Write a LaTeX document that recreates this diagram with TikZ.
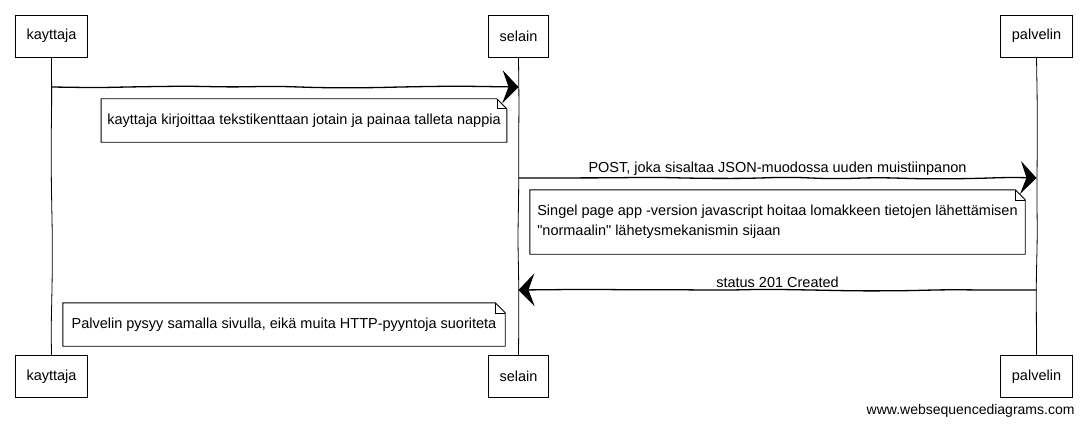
\documentclass[tikz,border=0pt]{standalone}
\usepackage{fontspec}
\setmainfont{Liberation Sans}
\usetikzlibrary{arrows.meta,decorations.pathmorphing}

\begin{document}
\begin{tikzpicture}[x=1pt,y=-1pt,
  every node/.style={font=\fontsize{14.5}{20}\selectfont},
  sketch/.style={decorate,decoration={random steps,segment length=45pt,amplitude=0.9pt},rounded corners=15pt},
  actor/.style={draw,line width=0.9pt,minimum height=42pt,inner xsep=11pt},
  life/.style={line width=0.8pt,sketch},
  msg/.style={line width=1.3pt,sketch,-{Stealth[length=16pt,width=33pt,inset=6pt]}},
  note/.style={inner xsep=6pt,minimum height=43pt,align=left}]
\useasboundingbox (0,0) rectangle (1086,425);
\pgfmathsetseed{7}
% participants, top and bottom
\node[actor] (kayttaja) at (51.5,36) {kayttaja};
\node[actor] (selain) at (518.5,36) {selain};
\node[actor] (palvelin) at (1036.5,36) {palvelin};
\node[actor] (kayttaja2) at (51.5,376.5) {kayttaja};
\node[actor] (selain2) at (518.5,376.5) {selain};
\node[actor] (palvelin2) at (1036.5,376.5) {palvelin};
\draw[life] (kayttaja) -- (kayttaja2);
\draw[life] (selain) -- (selain2);
\draw[life] (palvelin) -- (palvelin2);
% message rows
\coordinate (m1) at (0,87);
\coordinate (m2) at (0,178);
\coordinate (m3) at (0,290);
\draw[msg] (kayttaja |- m1) -- (selain |- m1);
\draw[msg] (selain |- m2) -- node[above,inner sep=2pt] {POST, joka sisaltaa JSON-muodossa uuden muistiinpanon} (palvelin |- m2);
\draw[msg] (palvelin |- m3) -- node[above,inner sep=2pt] {status 201 Created} (selain |- m3);
% notes
\node[note,minimum width=402pt] (n1) at (304,120.5) {kayttaja kirjoittaa tekstikenttaan jotain ja painaa talleta nappia};
\node[note,minimum width=495pt,minimum height=64pt] (n2) at (777.5,222) {Singel page app -version javascript hoitaa lomakkeen tietojen lähettämisen\\\textquotedbl normaalin\textquotedbl{} lähetysmekanismin sijaan};
\node[note,minimum width=442pt] (n3) at (284,324.5) {Palvelin pysyy samalla sivulla, eikä muita HTTP-pyyntoja suoriteta};
\foreach \n in {n1,n2,n3}{
  \draw[line width=0.9pt] (\n.north west) -- ([xshift=-10pt]\n.north east) -- ([yshift=-10pt]\n.north east) -- (\n.south east) -- (\n.south west) -- cycle;
  \draw[line width=0.6pt] ([xshift=-10pt]\n.north east) |- ([yshift=-10pt]\n.north east);
}
\node[anchor=east,font=\fontsize{14}{17}\selectfont] (wsd) at (1078,411) {www.websequencediagrams.com};
\end{tikzpicture}
\end{document}
